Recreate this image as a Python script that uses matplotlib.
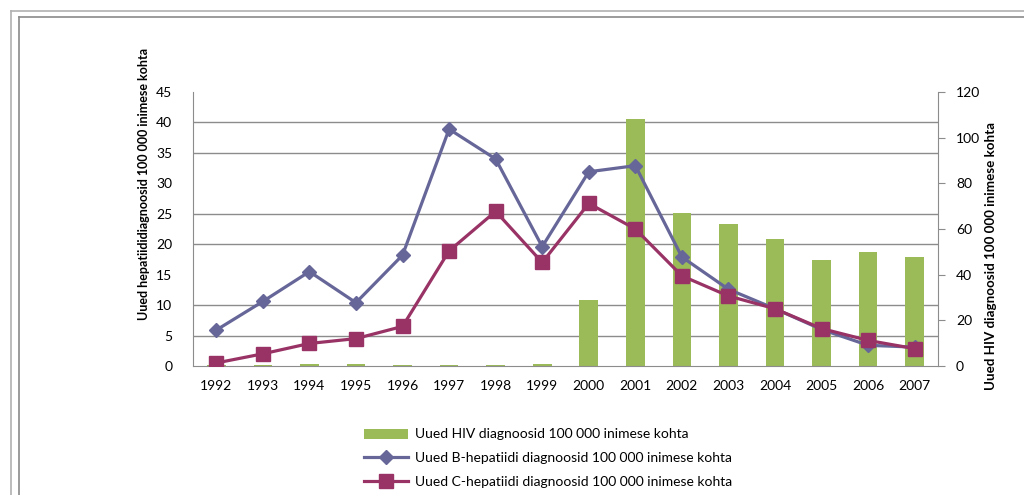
import matplotlib
matplotlib.use("Agg")
import matplotlib.pyplot as plt
import numpy as np
from matplotlib.lines import Line2D
from matplotlib.patches import Patch

years = ["1992", "1993", "1994", "1995", "1996", "1997", "1998", "1999",
         "2000", "2001", "2002", "2003", "2004", "2005", "2006", "2007"]
hiv = [0.5, 0.5, 1.0, 1.0, 0.5, 0.5, 0.5, 1.0,
       28.8, 108.3, 66.8, 62.2, 55.6, 46.4, 49.9, 47.7]
hep_b = [5.9, 10.6, 15.5, 10.4, 18.2, 38.9, 34.0, 19.6,
         31.9, 32.9, 17.9, 12.6, 9.4, 6.0, 3.4, 3.1]
hep_c = [0.5, 2.0, 3.7, 4.5, 6.5, 18.9, 25.4, 17.0,
         26.7, 22.5, 14.8, 11.5, 9.4, 6.15, 4.2, 2.85]

lbl_hiv = "Uued HIV diagnoosid 100 000 inimese kohta"
lbl_b = "Uued B-hepatiidi diagnoosid 100 000 inimese kohta"
lbl_c = "Uued C-hepatiidi diagnoosid 100 000 inimese kohta"
ylabel_left = "Uued hepatiididiagnoosid 100 000 inimese kohta"
ylabel_right = "Uued HIV diagnoosid 100 000 inimese kohta"

plt.rcParams['font.family'] = ['Lato', 'DejaVu Sans']

green = "#9BBB59"
blue = "#666699"
magenta = "#993366"
gridc = "#8C8C8C"
txt = "#000000"

fig = plt.figure(figsize=(10.24, 4.95), dpi=100)
fig.patch.set_facecolor("white")

# decorative frame lines (figure coords)
W, H = 1024.0, 495.0
def fl(xs, ys, c, lw):
    fig.add_artist(Line2D([x / W for x in xs], [1 - y / H for y in ys],
                          color=c, lw=lw, transform=fig.transFigure))
fl([10.5, 1030], [10.5, 10.5], "#B0B0B0", 1.2)
fl([10.5, 10.5], [10.5, 500], "#B0B0B0", 1.2)
fl([18.5, 1030], [16.5, 16.5], "#8A8A8A", 1.2)
fl([18.5, 18.5], [16.5, 500], "#8A8A8A", 1.2)

left, right, top, bottom = 193, 938, 92, 366
pos = [left / W, 1 - bottom / H, (right - left) / W, (bottom - top) / H]

ax2 = fig.add_axes(pos)                 # bars, right scale (behind)
ax = fig.add_axes(pos, sharex=ax2)      # lines, left scale (front)
ax.patch.set_visible(False)

x = np.arange(len(years))

# bars on right axis
ax2.bar(x, hiv, width=0.4, color=green, zorder=2)
ax2.set_ylim(0, 120)
ax2.set_xlim(-0.5, len(years) - 0.5)
ax2.yaxis.tick_right()
ax2.set_yticks(np.arange(0, 121, 20))
ax2.tick_params(axis='y', which='major', direction='out', length=5,
                color=gridc, labelsize=10, pad=8, labelcolor=txt)
# gridlines matching left axis ticks
left_ticks = np.arange(0, 46, 5)
ax2.set_yticks(left_ticks * 120 / 45, minor=True)
ax2.tick_params(axis='y', which='minor', length=0)
ax2.grid(True, which='minor', axis='y', color=gridc, lw=1.0, zorder=0)
ax2.set_axisbelow(True)
ax2.set_xticks(x)
ax2.set_xticklabels(years)
ax2.tick_params(axis='x', length=0, labelsize=10, pad=10, labelcolor=txt)
for s in ["top", "left"]:
    ax2.spines[s].set_visible(False)
ax2.spines["right"].set_color(gridc)
ax2.spines["bottom"].set_color(gridc)

# lines on left axis
ax.plot(x, hep_b, color=blue, lw=2.3, marker='D', ms=7, zorder=3)
ax.plot(x, hep_c, color=magenta, lw=2.3, marker='s', ms=9.5, zorder=4)
ax.set_ylim(0, 45)
ax.set_yticks(left_ticks)
ax.tick_params(axis='y', length=0, labelsize=10, pad=15, labelcolor=txt)
ax.tick_params(axis='x', which='both', bottom=False, labelbottom=False)
for s in ["top", "right", "bottom"]:
    ax.spines[s].set_visible(False)
ax.spines["left"].set_color(gridc)

# axis titles
fig.text(144 / W, 1 - 184 / H, ylabel_left, rotation=90, ha='center',
         va='center', fontsize=9.0, fontweight='bold')
fig.text(991 / W, 1 - 256 / H, ylabel_right, rotation=90, ha='center',
         va='center', fontsize=9.6, fontweight='bold')

handles = [Patch(facecolor=green, edgecolor='none'),
           Line2D([], [], color=blue, lw=2.3, marker='D', ms=7),
           Line2D([], [], color=magenta, lw=2.3, marker='s', ms=9.5)]
fig.legend(handles, [lbl_hiv, lbl_b, lbl_c], loc='upper left',
           bbox_to_anchor=(351 / W, 1 - 416 / H), frameon=False,
           fontsize=10, handlelength=3.2, handleheight=0.7,
           labelspacing=0.85, handletextpad=0.5)

fig.savefig("out.png", dpi=100)
